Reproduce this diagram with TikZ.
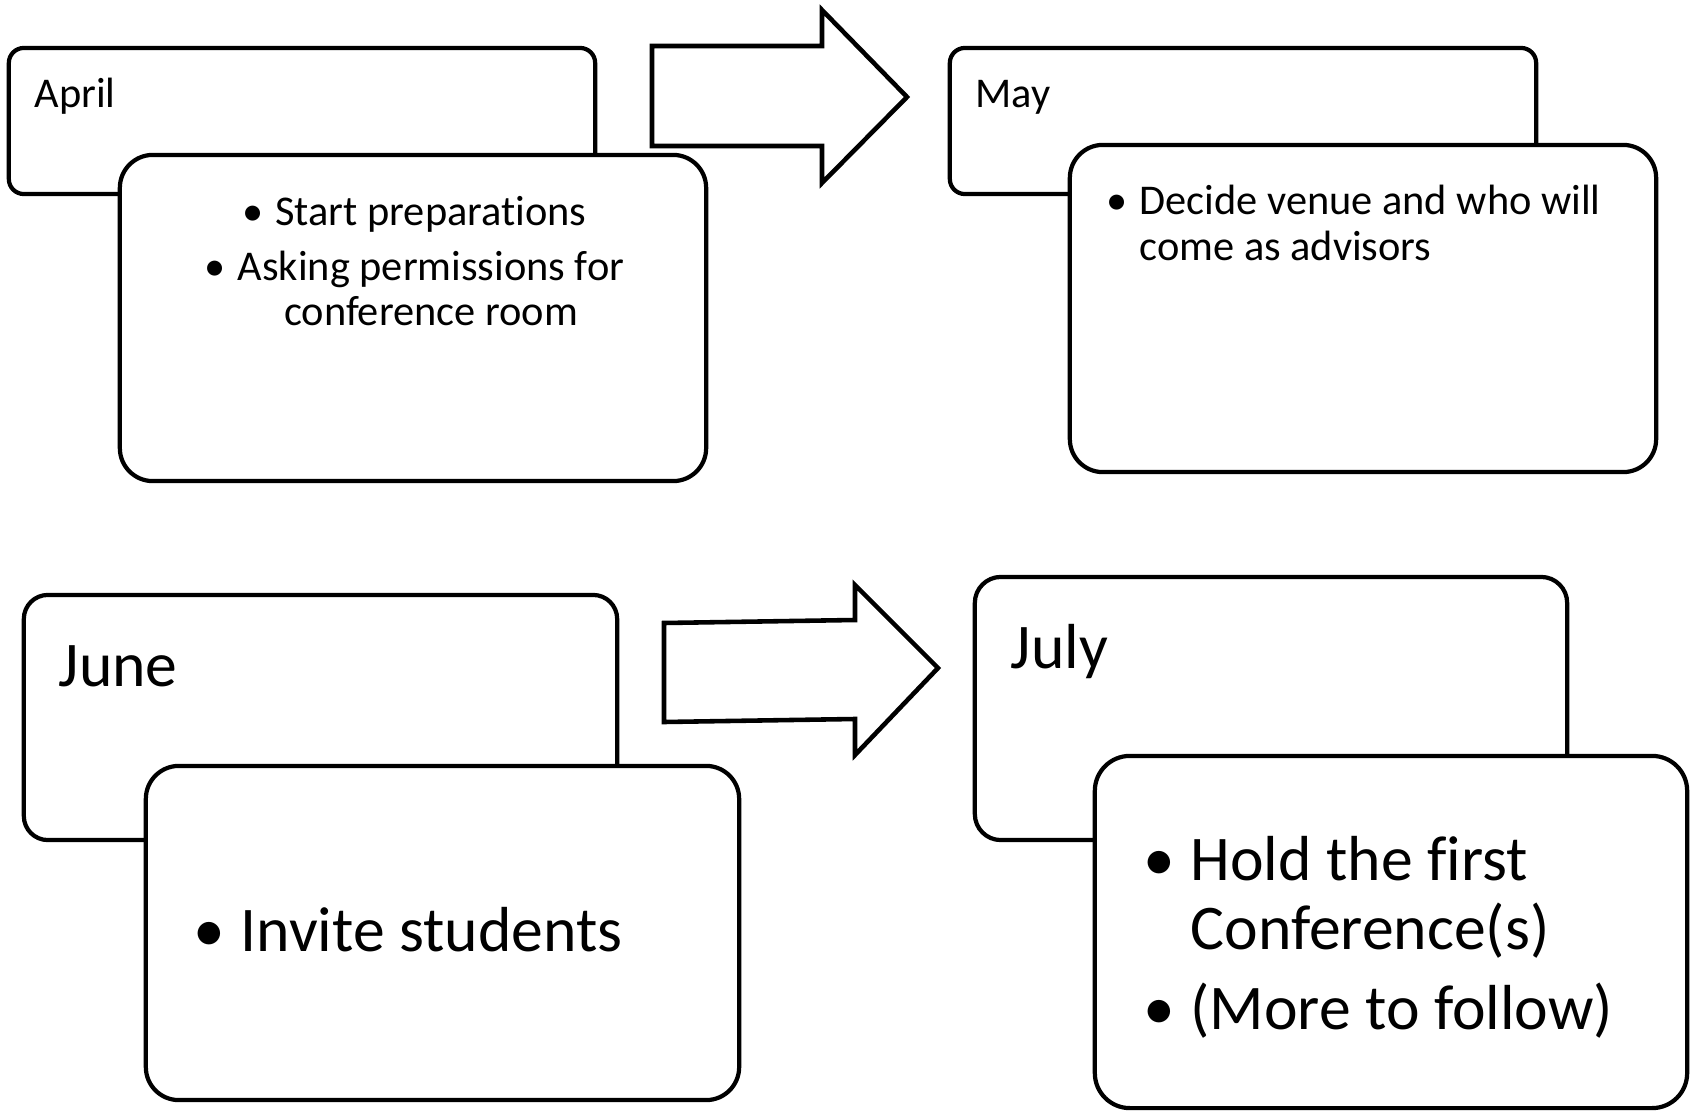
\documentclass[tikz,border=0pt]{standalone}
\usepackage{fontspec}
\setmainfont{Carlito}[Ligatures={NoCommon,NoContextual}]

\begin{document}
\begin{tikzpicture}[x=0.01cm, y=-0.01cm]
    \tikzstyle{backbox} = [draw, fill=white, line width=1.2pt, inner sep=0pt]
    \tikzstyle{smalltxt} = [inner sep=0pt, font=\fontsize{12.05}{12.8}\selectfont]
    \tikzstyle{bigtxt} = [inner sep=0pt, font=\fontsize{18.1}{19.6}\selectfont]
    \tikzstyle{blockarrow} = [draw, fill=white, line width=1.3pt, line join=miter]

    \useasboundingbox (0,0) rectangle (1696,1112);

    % April
    \node[backbox, minimum width=5.86cm, minimum height=1.46cm, rounded corners=0.15cm] (aprilBack) at (302,121) {};
    \node[backbox, minimum width=5.86cm, minimum height=3.26cm, rounded corners=0.33cm] (aprilFront) at (413,318) {};
    \node[smalltxt, anchor=base west] (aprilLbl) at (34,107) {April};
    \node[smalltxt, anchor=base] (aprilA) at (431,225) {Start preparations};
    \node[smalltxt, anchor=base] (aprilB) at (431,280) {Asking permissions for};
    \node[smalltxt, anchor=base] (aprilBb) at (431,325) {conference room};
    \node[smalltxt, anchor=base west] (aprilDotA) at ([xshift=-9.4pt]aprilA.base west) {\textbullet};
    \node[smalltxt, anchor=base west] (aprilDotB) at ([xshift=-9.4pt]aprilB.base west) {\textbullet};

    % top arrow
    \draw[blockarrow] (652,46) -- (822,46) -- (822,10) -- (907,97) -- (822,183) -- (822,146) -- (652,146) -- cycle;

    % May
    \node[backbox, minimum width=5.86cm, minimum height=1.46cm, rounded corners=0.15cm] (mayBack) at (1243,121) {};
    \node[backbox, minimum width=5.86cm, minimum height=3.27cm, rounded corners=0.33cm] (mayFront) at (1363,308.5) {};
    \node[smalltxt, anchor=base west] (mayLbl) at (975,107) {May};
    \node[smalltxt, anchor=base west] (mayA) at (1139,214) {Decide venue and who will};
    \node[smalltxt, anchor=base west] (mayAb) at (1139,260) {come as advisors};
    \node[smalltxt, anchor=base west] (mayDotA) at ([xshift=-9.4pt]mayA.base west) {\textbullet};

    % June
    \node[backbox, minimum width=5.93cm, minimum height=2.45cm, rounded corners=0.24cm] (juneBack) at (320.5,717.5) {};
    \node[backbox, minimum width=5.93cm, minimum height=3.34cm, rounded corners=0.33cm] (juneFront) at (442.5,933) {};
    \node[bigtxt, anchor=base west] (juneLbl) at (58,686) {June};
    \node[bigtxt, anchor=base west] (juneA) at (240,951) {Invite students};
    \node[bigtxt, anchor=base west] (juneDotA) at ([xshift=-13.5pt]juneA.base west) {\textbullet};

    % bottom arrow
    \draw[blockarrow] (664,623) -- (855,620) -- (855,585) -- (938,668) -- (855,755) -- (855,719) -- (664,722) -- cycle;

    % July
    \node[backbox, minimum width=5.92cm, minimum height=2.63cm, rounded corners=0.26cm] (julyBack) at (1271,708.5) {};
    \node[backbox, minimum width=5.92cm, minimum height=3.52cm, rounded corners=0.35cm] (julyFront) at (1391,932) {};
    \node[bigtxt, anchor=base west] (julyLbl) at (1010,668) {July};
    \node[bigtxt, anchor=base west] (julyA) at (1190,880) {Hold the first};
    \node[bigtxt, anchor=base west] (julyAb) at (1190,949) {Conference(s)};
    \node[bigtxt, anchor=base west] (julyB) at (1190,1029) {(More to follow)};
    \node[bigtxt, anchor=base west] (julyDotA) at ([xshift=-13.5pt]julyA.base west) {\textbullet};
    \node[bigtxt, anchor=base west] (julyDotB) at ([xshift=-13.5pt]julyB.base west) {\textbullet};
\end{tikzpicture}
\end{document}
